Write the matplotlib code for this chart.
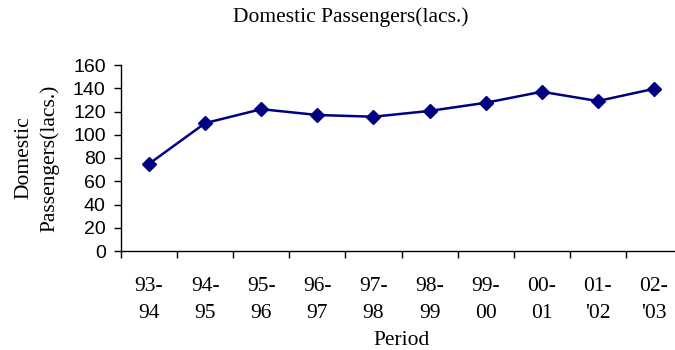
import matplotlib.pyplot as plt
import numpy as np

periods = ["93-\n94", "94-\n95", "95-\n96", "96-\n97", "97-\n98",
           "98-\n99", "99-\n00", "00-\n01", "01-\n'02", "02-\n'03"]
passengers = [75, 110, 122, 117, 115.5, 120.5, 127.5, 137, 129, 139.5]
yticks = [0, 20, 40, 60, 80, 100, 120, 140, 160]

serif = "Liberation Serif"
sans = "Liberation Sans"

fig = plt.figure(figsize=(6.75, 3.5), dpi=100)
ax = fig.add_axes([121 / 675, 1 - 251 / 350, 561 / 675, 186 / 350])

x = np.arange(len(periods))
ax.plot(x, passengers, color="#000080", lw=1.8, marker="D", ms=7.5,
        mec="#000080", mfc="#000080", clip_on=False)

ax.set_xlim(-0.5, len(periods) - 0.5)
ax.set_ylim(0, 160)
ax.set_yticks(yticks)
ax.set_yticklabels([str(v) for v in yticks], fontfamily=sans, fontsize=14)

ax.set_xticks(x)
ax.set_xticklabels(periods, fontfamily=serif, fontsize=15.5, linespacing=1.53)
ax.set_xticks(np.arange(len(periods) + 1) - 0.5, minor=True)
ax.tick_params(axis="x", which="major", length=0, pad=19)
ax.tick_params(axis="x", which="minor", length=5, width=1, direction="out")
ax.tick_params(axis="y", length=5, width=1, direction="out", pad=6)

for s in ["top", "right"]:
    ax.spines[s].set_visible(False)
for s in ["left", "bottom"]:
    ax.spines[s].set_linewidth(1)
    ax.spines[s].set_color("black")

ax.set_xlabel("Period", fontfamily=serif, fontsize=15.5, labelpad=6)
ax.set_ylabel("Domestic\nPassengers(lacs.)", fontfamily=serif, fontsize=15.5,
              linespacing=1.4, labelpad=10)
fig.text(351 / 675, 1 - 17 / 350, "Domestic Passengers(lacs.)",
         fontfamily=serif, fontsize=15.5, ha="center", va="center")

fig.savefig("out.png", dpi=100)
